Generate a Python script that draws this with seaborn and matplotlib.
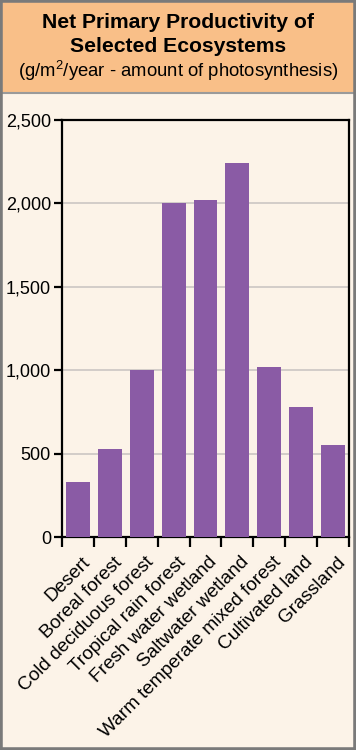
import pandas as pd
import seaborn as sns
import matplotlib.pyplot as plt
from matplotlib.patches import Rectangle

# Chart data
ecosystems = ["Desert", "Boreal forest", "Cold deciduous forest", "Tropical rain forest",
              "Fresh water wetland", "Saltwater wetland", "Warm temperate mixed forest",
              "Cultivated land", "Grassland"]
npp = [330, 528, 1000, 2000, 2020, 2240, 1020, 780, 550]
y_ticks = [0, 500, 1000, 1500, 2000, 2500]
y_tick_labels = ["0", "500", "1,000", "1,500", "2,000", "2,500"]

sns.set_style("white")
plt.rcParams['font.family'] = ['Liberation Sans', 'DejaVu Sans']
plt.rcParams['mathtext.default'] = 'regular'
plt.rcParams['text.color'] = 'black'
plt.rcParams['xtick.color'] = 'black'
plt.rcParams['ytick.color'] = 'black'

cream = "#FCF3E8"
orange = "#F9BF88"
purple = "#8A5BA5"

df = pd.DataFrame({"ecosystem": ecosystems, "npp": npp})

fig = plt.figure(figsize=(3.56, 7.5), dpi=100, facecolor=cream)

# header band and frame
fig.patches.append(Rectangle((0, 1 - 93 / 750), 1, 93 / 750, transform=fig.transFigure,
                             facecolor=orange, edgecolor="none", zorder=0))
fig.add_artist(plt.Line2D([0, 1], [1 - 93 / 750, 1 - 93 / 750], transform=fig.transFigure,
                          color="#9a9a9a", lw=1.5))
fig.patches.append(Rectangle((0, 0), 1, 1, transform=fig.transFigure, facecolor="none",
                             edgecolor="#7a7a7a", lw=4, zorder=5))

fig.text(0.5, 1 - 22 / 750, "Net Primary Productivity of", ha="center", va="center",
         fontsize=15.2, fontweight="bold")
fig.text(0.5, 1 - 47 / 750, "Selected Ecosystems", ha="center", va="center",
         fontsize=15.2, fontweight="bold")
fig.text(0.5, 1 - 71 / 750, "(g/m$^{2}$/year - amount of photosynthesis)", ha="center",
         va="center", fontsize=13.3)

ax = fig.add_axes([62 / 356, 1 - 537 / 750, (349 - 62) / 356, (537 - 120) / 750])
ax.set_facecolor(cream)

sns.barplot(data=df, x="ecosystem", y="npp", color=purple, saturation=1, width=0.75,
            linewidth=0, ax=ax, zorder=3)

ax.set_ylim(0, 2500)
ax.set_xlim(-0.5, len(ecosystems) - 0.5)
ax.set_yticks(y_ticks)
ax.set_yticklabels(y_tick_labels, fontsize=13)
ax.yaxis.grid(True, color="#cfcac6", lw=1.3, zorder=0)
ax.set_axisbelow(True)

# boundary ticks between bars, labels centred under each bar
ax.set_xticks([i - 0.5 for i in range(len(ecosystems) + 1)])
ax.set_xticklabels([])
ax.set_xticks([i + 0.1 for i in range(len(ecosystems))], minor=True)
ax.set_xticklabels(ecosystems, minor=True, rotation=45, ha="right", va="top",
                   rotation_mode="anchor", fontsize=13.7)
ax.tick_params(axis="x", which="major", direction="out", length=7, width=1.6,
               color="black", bottom=True)
ax.tick_params(axis="x", which="minor", length=0, pad=12)
ax.tick_params(axis="y", direction="out", length=6, width=1.6, color="black", left=True,
               pad=2)

for s in ax.spines.values():
    s.set_visible(True)
    s.set_color("black")
    s.set_linewidth(1.6)

ax.set_xlabel("")
ax.set_ylabel("")

fig.savefig("out.png", dpi=100, facecolor=cream)
